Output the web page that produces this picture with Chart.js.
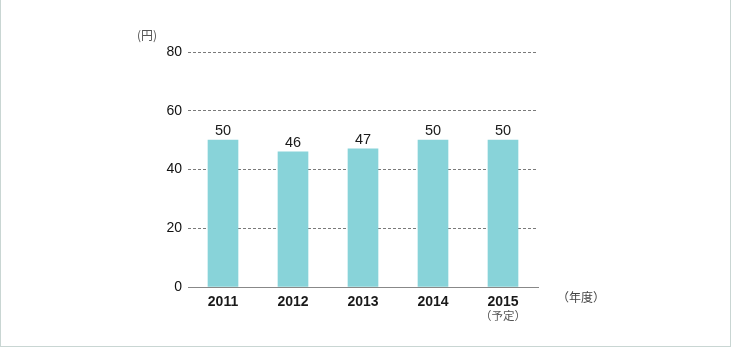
<!DOCTYPE html>
<html>
<head>
<meta charset="utf-8">
<script src="https://cdn.jsdelivr.net/npm/chart.js@4"></script>
<style>
  html, body { margin: 0; padding: 0; background: #fff; }
  #wrap { position: relative; width: 731px; height: 347px; box-sizing: border-box;
          border-left: 1px solid #c9d6d3; border-right: 1px solid #c9d6d3; border-bottom: 1px solid #c9d6d3; }
  canvas { position: absolute; left: 0; top: 0; }
</style>
</head>
<body>
<div id="wrap"><canvas id="myChart" width="729" height="346"></canvas></div>
<script>
const years = ['2011', '2012', '2013', '2014', '2015'];
const dividends = [50, 46, 47, 50, 50];
const yTicks = [0, 20, 40, 60, 80];
const unitLabel = '(円)';
const yearUnit = '（年度）';
const planNote = '（予定）';

const numFont = '"Liberation Sans", Arial, Helvetica, sans-serif';
const jpFont = '"Noto Sans CJK JP", "Liberation Sans", sans-serif';

// values above bars + extra captions
const labelsPlugin = {
  id: 'labels',
  afterDatasetsDraw(chart) {
    const ctx = chart.ctx;
    const meta = chart.getDatasetMeta(0);
    ctx.save();
    ctx.fillStyle = '#1a1a1a';
    ctx.font = '14.5px ' + numFont;
    ctx.textAlign = 'center';
    ctx.textBaseline = 'alphabetic';
    meta.data.forEach((bar, i) => {
      ctx.fillText(String(dividends[i]), bar.x, bar.y - 5);
    });

    const x = chart.scales.x;
    ctx.fillStyle = '#555';
    ctx.font = '11.5px ' + jpFont;
    ctx.textBaseline = 'middle';
    ctx.fillText(planNote, x.getPixelForValue(4), 316);

    ctx.fillStyle = '#444';
    ctx.font = '12px ' + jpFont;
    ctx.textAlign = 'left';
    ctx.fillText(yearUnit, 556, 297);

    ctx.font = '12px ' + jpFont;
    ctx.fillStyle = '#555';
    ctx.fillText(unitLabel, 136, 35);
    ctx.restore();
  }
};

const ctx = document.getElementById('myChart');

new Chart(ctx, {
  type: 'bar',
  data: {
    labels: years,
    datasets: [{
      data: dividends,
      backgroundColor: '#88d3d9',
      barThickness: 30
    }]
  },
  options: {
    responsive: false,
    animation: false,
    layout: { padding: { left: 0, right: 192, top: 52, bottom: 19 } },
    plugins: { legend: { display: false }, tooltip: { enabled: false } },
    scales: {
      x: {
        grid: { display: false, drawTicks: false },
        border: { color: '#888', width: 1 },
        ticks: { color: '#1a1a1a', padding: 7, font: { family: numFont, size: 14, weight: 'bold' } },
        afterFit(scale) { scale.height = 40; }
      },
      y: {
        min: 0,
        max: 80,
        afterBuildTicks(scale) { scale.ticks = yTicks.map(v => ({ value: v })); },
        border: { display: false, dash: [3, 2] },
        grid: {
          drawTicks: false,
          color: c => c.tick && c.tick.value === 0 ? 'rgba(0,0,0,0)' : '#7a7a7a'
        },
        ticks: { color: '#111', padding: 6, font: { family: numFont, size: 14 } },
        afterFit(scale) { scale.width = 187; }
      }
    }
  },
  plugins: [labelsPlugin]
});
</script>
</body>
</html>
